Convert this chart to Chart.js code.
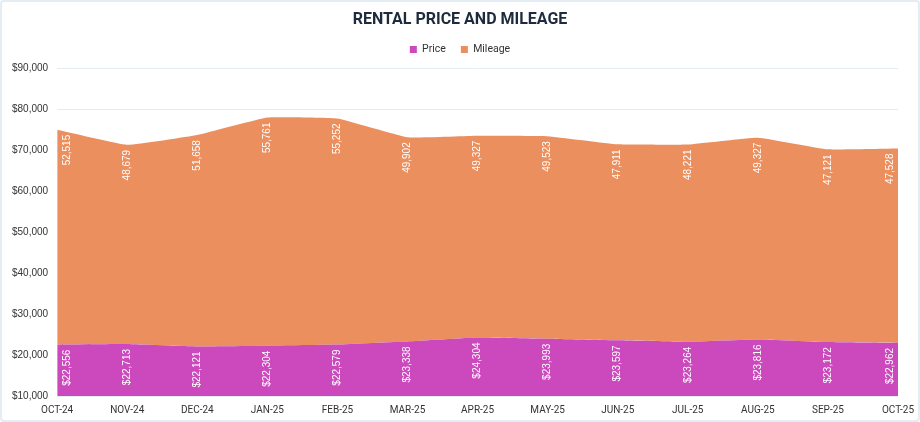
<!DOCTYPE html>
<html>
<head>
<meta charset="utf-8">
<script src="https://cdn.jsdelivr.net/npm/chart.js@4"></script>
<style>
  html, body { margin: 0; padding: 0; background: #fff; }
  #wrap { width: 916px; height: 418px; border: 2px solid #e4edf3; border-radius: 4px; position: relative; }
  canvas { display: block; }
</style>
</head>
<body>
<div id="wrap"><canvas id="chart" width="916" height="418"></canvas></div>
<script>
// months on the x axis
const months = ['OCT-24', 'NOV-24', 'DEC-24', 'JAN-25', 'FEB-25', 'MAR-25', 'APR-25',
                'MAY-25', 'JUN-25', 'JUL-25', 'AUG-25', 'SEP-25', 'OCT-25'];
const price = [22556, 22713, 22121, 22304, 22579, 23338, 24304, 23993, 23597, 23264, 23816, 23172, 22962];
const mileage = [52515, 48679, 51658, 55761, 55252, 49902, 49327, 49523, 47911, 48221, 49327, 47121, 47528];
const seriesNames = ['Price', 'Mileage'];

const fmt = (v) => v.toLocaleString('en-US');

// white rotated labels just under the top edge of each band
const bandLabels = {
    id: 'bandLabels',
    afterDatasetsDraw(chart) {
        const ctx = chart.ctx;
        const area = chart.chartArea;
        ctx.save();
        ctx.font = '10px "Liberation Sans", Arial, sans-serif';
        ctx.fillStyle = '#ffffff';
        ctx.textAlign = 'right';
        ctx.textBaseline = 'middle';
        chart.data.datasets.forEach((ds, i) => {
            const meta = chart.getDatasetMeta(i);
            meta.data.forEach((pt, j) => {
                const x = Math.min(Math.max(pt.x, area.left + 10), area.right - 8);
                const text = i === 0 ? '$' + fmt(ds.data[j]) : fmt(ds.data[j]);
                ctx.save();
                ctx.translate(x, pt.y + 5);
                ctx.rotate(-Math.PI / 2);
                ctx.fillText(text, 0, 0);
                ctx.restore();
            });
        });
        ctx.restore();
    }
};

// empty axes used only as spacers so title/legend stay centred
const spacer = {
    display: true,
    grid: { display: false },
    border: { display: false },
    ticks: { display: false }
};

new Chart(document.getElementById('chart'), {
    type: 'line',
    data: {
        labels: months,
        datasets: [
            { label: seriesNames[0], data: price, backgroundColor: '#cc48bd', borderColor: '#cc48bd',
              borderWidth: 0, fill: 'start', pointRadius: 0, tension: 0.1 },
            { label: seriesNames[1], data: mileage, backgroundColor: '#ec8f5e', borderColor: '#ec8f5e',
              borderWidth: 0, fill: '-1', pointRadius: 0, tension: 0.1 }
        ]
    },
    options: {
        responsive: false,
        animation: false,
        layout: { padding: { left: 1, right: 1, top: 2, bottom: 4 } },
        plugins: {
            title: {
                display: true, text: 'RENTAL PRICE AND MILEAGE', color: '#1d2b3c',
                font: { family: 'Roboto, sans-serif', size: 16, weight: 'bold' },
                padding: { top: 6, bottom: 0 }
            },
            legend: {
                labels: { boxWidth: 7, boxHeight: 7, color: '#333', padding: 15,
                          font: { family: 'Roboto, sans-serif', size: 10.5 } }
            },
            tooltip: { enabled: false }
        },
        scales: {
            x: {
                grid: { display: false },
                border: { display: false },
                ticks: { color: '#333', maxRotation: 0, padding: 0,
                         font: { family: 'Roboto, sans-serif', size: 10 } }
            },
            y: {
                stacked: true,
                min: 10000, max: 90000,
                grid: { color: '#e2ecf2', drawTicks: false },
                border: { display: false },
                ticks: { stepSize: 10000, padding: 9, color: '#333',
                         font: { family: '"Liberation Sans", Arial, sans-serif', size: 10 },
                         callback: (v) => '$' + fmt(v) }
            },
            topGap: { ...spacer, type: 'category', position: 'top', afterFit: (s) => { s.height = 4; } },
            rightGap: { ...spacer, type: 'linear', position: 'right', afterFit: (s) => { s.width = 19; } }
        }
    },
    plugins: [bandLabels]
});
</script>
</body>
</html>
